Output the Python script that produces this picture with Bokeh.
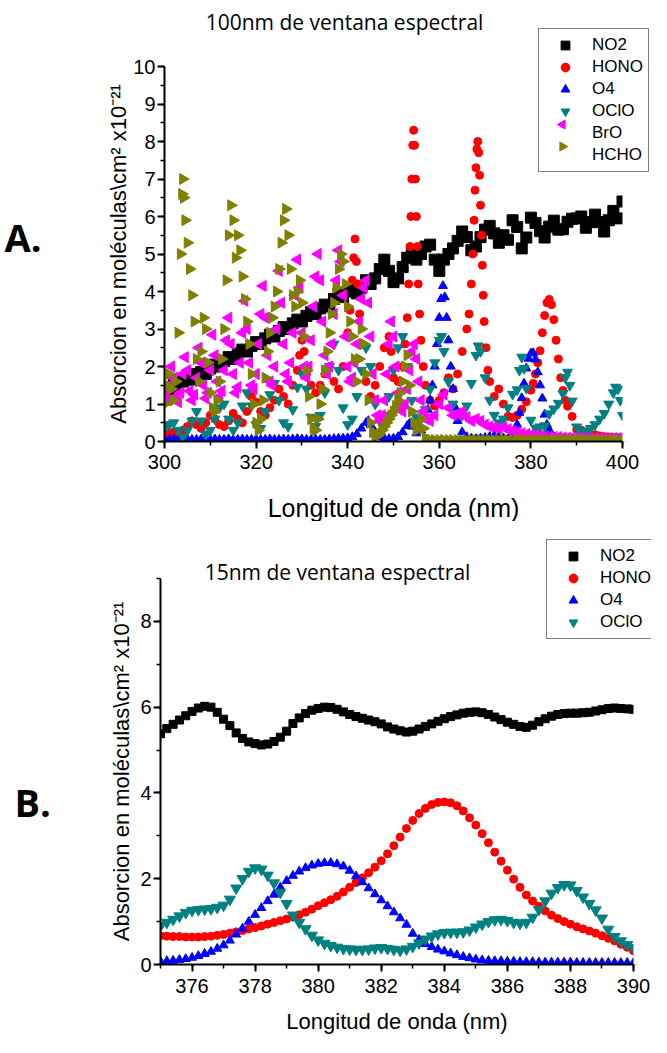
import numpy as np
from bokeh.plotting import figure
from bokeh.models import Legend, LegendItem, Label, SingleIntervalTicker
from bokeh.layouts import column
from bokeh.embed import file_html
from bokeh.resources import INLINE

# ---------------- texts ----------------
titulo_a = "100nm de ventana espectral"
titulo_b = "15nm de ventana espectral"
eje_x = "Longitud de onda (nm)"
eje_y = "Absorcion en moléculas\\cm\u00b2 x10\u207b\u00b2\u00b9"
nombres = ["NO2", "HONO", "O4", "OClO", "BrO", "HCHO"]

# ---------------- panel A data (nm, absorcion) ----------------
a_no2_x = list(range(300, 401))
a_no2_y = [1.35, 1.40, 1.50, 1.45, 1.60, 1.70, 1.65, 1.80, 1.85, 1.80,
           1.95, 2.05, 2.00, 2.15, 2.25, 2.20, 2.35, 2.45, 2.40, 2.55,
           2.65, 2.60, 2.75, 2.85, 2.80, 2.95, 3.05, 3.00, 3.15, 3.25,
           3.20, 3.35, 3.45, 3.40, 3.55, 3.65, 3.60, 3.80, 3.95, 3.85,
           4.00, 4.10, 3.95, 4.10, 4.30, 4.20, 4.35, 4.60, 4.85, 4.55,
           4.25, 4.35, 4.65, 4.90, 5.00, 4.85, 5.00, 5.20, 5.25, 4.85,
           4.55, 4.85, 5.00, 5.15, 5.35, 5.60, 5.45, 5.10, 5.20, 5.45,
           5.65, 5.75, 5.55, 5.30, 5.50, 5.38, 5.90, 5.72, 5.15, 5.44,
           5.97, 5.83, 5.61, 5.44, 5.73, 5.89, 5.65, 5.66, 5.86, 5.94,
           5.95, 6.00, 5.70, 5.85, 6.05, 5.85, 5.60, 5.90, 6.15, 5.95,
           6.40]

a_hono = [(300, 0.15), (301, 0.2), (302, 0.25), (303, 0.2), (304, 0.3), (305, 0.4), (306, 0.55), (307, 0.45),
          (308, 0.35), (309, 0.5), (310, 0.7), (311, 0.6), (312, 0.45), (313, 0.4), (314, 0.55), (315, 0.75),
          (316, 0.6), (317, 0.5), (318, 0.8), (319, 1.2), (320, 1.05), (321, 0.8), (322, 0.7), (323, 0.9),
          (324, 1.1), (325, 1.4), (326, 1.2), (327, 1.0), (328, 1.5), (329, 1.9), (329.5, 2.3), (330, 2.7),
          (330.5, 2.4), (331, 1.8), (332, 1.5), (333, 1.3), (334, 1.5), (335, 1.8), (336, 2.0), (337, 1.6),
          (338, 1.4), (339, 2.0), (340, 2.9), (340.5, 3.5), (341, 4.3), (341.3, 4.9), (341.6, 5.4), (341.9, 4.8),
          (342.2, 4.2), (342.6, 3.4), (343, 2.6), (344, 1.6), (345, 1.2), (346, 1.5), (347, 2.0), (348, 2.5),
          (349, 2.8), (349.5, 2.4), (350, 1.7), (351, 1.6), (352, 2.0), (352.5, 2.6), (353, 3.3), (353.3, 4.2),
          (353.6, 5.2), (353.8, 6.0), (354.0, 7.0), (354.2, 7.9), (354.4, 8.3), (354.6, 7.9), (354.8, 7.0),
          (355.0, 6.0), (355.2, 5.2), (355.4, 4.2), (355.7, 3.4), (356, 2.7), (356.5, 2.0), (357, 1.5),
          (358, 1.1), (359, 0.95), (360, 1.1), (361, 1.3), (362, 1.7), (363, 1.4), (364, 1.8), (365, 2.4),
          (366, 3.0), (366.5, 3.4), (367, 4.2), (367.3, 5.0), (367.6, 5.9), (367.8, 6.7), (368.0, 7.3),
          (368.2, 7.8), (368.4, 8.0), (368.6, 7.7), (368.8, 7.1), (369.0, 6.3), (369.2, 5.5), (369.4, 4.7),
          (369.6, 3.9), (369.8, 3.2), (370.2, 2.5), (370.6, 1.9), (371, 1.6), (372, 1.2), (373, 1.4),
          (374, 1.0), (375, 0.67), (376, 0.64), (377, 0.7), (378, 0.86), (379, 1.06), (380, 1.37),
          (380.5, 1.55), (381, 1.8), (381.5, 2.1), (382, 2.42), (382.5, 2.9), (383, 3.36), (383.5, 3.7),
          (384, 3.79), (384.5, 3.65), (385, 3.25), (385.5, 2.7), (386, 2.2), (386.5, 1.7), (387, 1.36),
          (387.5, 1.1), (388, 0.94), (389, 0.67), (390, 0.32), (391, 0.3), (392, 0.22), (393, 0.2),
          (394, 0.18), (395, 0.15), (396, 0.13), (397, 0.12), (398, 0.11), (399, 0.1), (400, 0.1)]

a_o4 = [(300, 0.05), (301, 0.05), (302, 0.06), (303, 0.05), (304, 0.05), (305, 0.06), (306, 0.05), (307, 0.05),
        (308, 0.06), (309, 0.05), (310, 0.05), (311, 0.06), (312, 0.05), (313, 0.05), (314, 0.06), (315, 0.05),
        (316, 0.05), (317, 0.06), (318, 0.05), (319, 0.05), (320, 0.06), (321, 0.05), (322, 0.05), (323, 0.06),
        (324, 0.05), (325, 0.05), (326, 0.06), (327, 0.05), (328, 0.06), (329, 0.07), (330, 0.06), (331, 0.05),
        (332, 0.05), (333, 0.06), (334, 0.05), (335, 0.05), (336, 0.06), (337, 0.07), (338, 0.08), (339, 0.08),
        (340, 0.09), (341, 0.12), (342, 0.2), (343, 0.35), (344, 0.5), (344.5, 0.55), (345, 0.45), (346, 0.25),
        (347, 0.12), (348, 0.08), (349, 0.07), (350, 0.08), (351, 0.12), (352, 0.25), (353, 0.42),
        (353.5, 0.48), (354, 0.4), (355, 0.22), (356, 0.3), (357, 0.6), (357.5, 0.85), (358, 1.1),
        (358.5, 1.5), (359, 2.0), (359.5, 2.6), (360, 3.3), (360.4, 3.8), (360.8, 4.15), (361.2, 3.85),
        (361.6, 3.3), (362, 2.7), (362.5, 2.0), (363, 1.4), (363.5, 0.9), (364, 0.55), (365, 0.25),
        (366, 0.12), (367, 0.08), (368, 0.07), (369, 0.08), (370, 0.1), (371, 0.13), (372, 0.15),
        (373, 0.12), (374, 0.09), (375, 0.07), (375.5, 0.1), (376, 0.16), (376.5, 0.28), (377, 0.45),
        (377.5, 0.77), (378, 1.16), (378.5, 1.55), (379, 1.95), (379.5, 2.21), (380, 2.35), (380.5, 2.36),
        (381, 2.19), (381.5, 1.85), (382, 1.5), (382.5, 1.15), (383, 0.72), (383.5, 0.45), (384, 0.31),
        (384.5, 0.2), (385, 0.12), (386, 0.07), (387, 0.06), (388, 0.06), (389, 0.05), (390, 0.04),
        (391, 0.04), (392, 0.05), (393, 0.04), (394, 0.04), (395, 0.05), (396, 0.04), (397, 0.04),
        (398, 0.05), (399, 0.04), (400, 0.04)]

a_oclo = [(300, 0.35), (301, 0.45), (302, 0.5), (303, 0.3), (304, 0.12), (305, 0.3), (306, 0.55), (307, 0.8),
          (308, 0.55), (309, 0.2), (310, 0.3), (311, 0.6), (312, 0.9), (313, 1.0), (314, 0.6), (315, 0.3),
          (316, 0.5), (317, 0.95), (318, 1.3), (319, 0.95), (320, 0.45), (321, 0.35), (322, 0.8), (323, 1.25),
          (324, 1.55), (325, 1.1), (326, 0.5), (327, 0.4), (328, 0.85), (329, 1.45), (330, 1.8), (331, 1.4),
          (332, 0.65), (333, 0.4), (334, 0.7), (335, 1.3), (336, 2.0), (337, 2.6), (338, 1.9), (339, 0.9),
          (340, 0.45), (341, 0.6), (342, 1.2), (343, 1.9), (344, 2.5), (345, 2.0), (346, 1.0), (347, 0.55),
          (348, 0.7), (349, 1.2), (350, 1.9), (351, 2.5), (352, 2.8), (353, 2.0), (354, 1.1), (355, 0.65),
          (356, 0.6), (357, 0.85), (358, 1.4), (359, 2.1), (360, 2.7), (360.5, 2.8), (361, 2.4), (362, 1.6),
          (363, 1.0), (364, 0.75), (365, 0.7), (366, 0.95), (367, 1.55), (368, 2.3), (368.5, 2.55),
          (369, 2.4), (370, 1.7), (371, 1.1), (372, 0.7), (373, 0.5), (374, 0.6), (375, 0.9), (376, 1.26),
          (377, 1.38), (377.5, 1.9), (378, 2.25), (378.5, 1.95), (379, 1.42), (380, 0.57), (381, 0.36),
          (382, 0.39), (383, 0.42), (384, 0.74), (385, 0.87), (386, 1.02), (387, 1.28), (387.5, 1.7),
          (388, 1.85), (388.5, 1.5), (389, 1.08), (390, 0.39), (391, 0.25), (392, 0.28), (393, 0.35),
          (394, 0.45), (395, 0.6), (396, 0.75), (397, 1.0), (398, 1.3), (398.5, 1.45), (399, 1.4),
          (399.5, 1.1), (400, 0.7)]

a_bro = [(300.0, 1.3), (300.5, 1.1), (301.0, 1.5), (301.5, 2.0), (302.0, 1.7), (302.5, 1.2), (303.0, 1.05),
         (303.5, 1.3), (304.0, 1.8), (304.5, 2.25), (305.0, 1.9), (305.5, 1.35), (306.0, 1.1), (306.5, 1.25),
         (307.0, 1.7), (307.5, 2.5), (308.0, 2.1), (308.5, 1.5), (309.0, 1.15), (309.5, 1.3), (310.0, 1.9),
         (310.5, 2.85), (311.0, 2.3), (311.5, 1.6), (312.0, 1.2), (312.5, 1.35), (313.0, 1.9), (313.5, 2.7),
         (314.0, 3.3), (314.5, 2.6), (315.0, 1.8), (315.5, 1.3), (316.0, 1.45), (316.5, 2.1), (317.0, 2.9),
         (317.5, 3.75), (318.0, 3.0), (318.5, 2.1), (319.0, 1.5), (319.5, 1.4), (320.0, 1.8), (320.5, 2.6),
         (321.0, 3.4), (321.5, 4.15), (322.0, 3.3), (322.5, 2.3), (323.0, 1.6), (323.5, 1.5), (324.0, 2.0),
         (324.5, 3.0), (325.0, 4.55), (325.5, 3.7), (326.0, 2.6), (326.5, 1.8), (327.0, 1.6), (327.5, 2.1),
         (328.0, 2.9), (328.5, 3.9), (329.0, 4.85), (329.5, 4.1), (330.0, 2.9), (330.5, 2.0), (331.0, 1.7),
         (331.5, 2.0), (332.0, 2.7), (332.5, 3.6), (333.0, 4.4), (333.5, 5.0), (334.0, 4.3), (334.5, 3.2),
         (335.0, 2.3), (335.5, 1.8), (336.0, 2.0), (336.5, 2.6), (337.0, 3.4), (337.5, 4.3), (338.0, 5.1),
         (338.5, 4.8), (339.0, 3.9), (339.5, 2.8), (340.0, 2.0), (340.5, 1.6), (341.0, 1.7), (341.5, 2.1),
         (342.0, 2.6), (342.5, 3.2), (343.0, 3.8), (343.5, 4.1), (344.0, 4.3), (344.5, 3.7), (345.0, 2.8),
         (345.5, 1.8), (346.0, 1.1), (346.5, 0.7), (347.0, 0.55), (347.5, 0.7), (348.0, 1.1), (348.5, 1.8),
         (349.0, 2.6), (349.5, 3.2), (350.0, 2.8), (350.5, 2.0), (351.0, 1.3), (351.5, 0.9), (352.0, 0.8),
         (352.5, 1.0), (353.0, 1.4), (353.5, 1.9), (354.0, 2.4), (354.5, 2.6), (355.0, 2.2), (355.5, 1.6),
         (356.0, 1.1), (356.5, 0.8), (357.0, 0.6), (358, 0.55), (359, 0.7), (360, 1.0), (361, 1.25),
         (362, 0.9), (363, 0.7), (364, 0.75), (365, 0.8), (366, 0.65), (367, 0.55), (368, 0.6), (369, 0.55),
         (370, 0.45), (371, 0.4), (372, 0.38), (373, 0.35), (374, 0.38), (375, 0.33), (376, 0.28),
         (377, 0.25), (378, 0.22), (379, 0.2), (380, 0.18), (381, 0.16), (382, 0.15), (383, 0.14),
         (384, 0.13), (385, 0.12), (386, 0.12), (387, 0.11), (388, 0.1), (389, 0.1), (390, 0.1),
         (391, 0.09), (392, 0.09), (393, 0.09), (394, 0.09), (395, 0.09), (396, 0.09), (397, 0.09),
         (398, 0.09), (399, 0.09), (400, 0.09)]

a_hcho = [(300.0, 1.0), (300.5, 1.5), (301.0, 1.8), (301.5, 1.4), (302.0, 1.1), (302.5, 1.6), (303.0, 2.9),
          (303.5, 5.0), (303.8, 6.6), (304.0, 7.0), (304.2, 6.5), (304.5, 5.9), (305.0, 5.3), (305.5, 4.6),
          (306.0, 3.9), (306.5, 3.2), (307.0, 2.2), (307.5, 1.6), (308.0, 2.4), (308.5, 3.3), (309.0, 3.0),
          (309.5, 2.1), (310.0, 1.3), (310.5, 0.9), (311.0, 0.8), (311.5, 1.1), (312.0, 1.6), (312.5, 2.2),
          (313.0, 3.0), (313.5, 4.3), (314.0, 5.5), (314.5, 6.3), (315.0, 5.9), (315.5, 4.9), (316.0, 5.5),
          (316.5, 5.1), (317.0, 4.4), (317.5, 3.8), (318.0, 3.2), (318.5, 2.6), (319.0, 1.8), (319.5, 1.0),
          (320.0, 0.5), (320.5, 0.3), (321.0, 0.6), (321.5, 1.1), (322.0, 1.7), (322.5, 2.4), (323.0, 2.9),
          (323.5, 3.3), (324.0, 3.6), (324.5, 4.0), (325.0, 4.6), (325.5, 5.3), (326.0, 5.9), (326.5, 6.2),
          (327.0, 5.5), (327.5, 4.6), (328.0, 3.9), (328.5, 3.6), (329.0, 4.0), (329.5, 4.3), (330.0, 3.7),
          (330.5, 2.8), (331.0, 1.9), (331.5, 1.2), (332.0, 0.6), (332.5, 0.35), (333.0, 0.3), (333.5, 0.6),
          (334.0, 1.0), (334.5, 1.4), (335.0, 1.9), (335.5, 2.4), (336.0, 2.9), (336.5, 3.4), (337.0, 3.7),
          (337.5, 4.1), (338.0, 4.6), (338.5, 5.0), (339.0, 4.8), (339.5, 4.2), (340.0, 3.6), (340.5, 3.2),
          (341.0, 2.8), (341.5, 2.2), (342.0, 1.6), (342.5, 2.2), (343.0, 3.0), (343.5, 2.6), (344.0, 1.8),
          (344.5, 1.1), (345.0, 0.5), (345.5, 0.25), (346.0, 0.15), (346.5, 0.15), (347.0, 0.2), (347.5, 0.3),
          (348.0, 0.4), (348.5, 0.5), (349.0, 0.6), (349.5, 0.7), (350.0, 0.8), (350.5, 0.95), (351.0, 1.1),
          (351.5, 1.3), (352.0, 1.6), (352.5, 2.0), (353.0, 2.3), (353.5, 1.5), (354.0, 0.8), (354.5, 0.5),
          (355.0, 0.3), (355.5, 0.4), (356.0, 0.6), (356.5, 0.35), (357.0, 0.1), (358, 0.05), (359, 0.04),
          (360, 0.04), (361, 0.04), (362, 0.04), (363, 0.04), (364, 0.04), (365, 0.04), (366, 0.04),
          (367, 0.04), (368, 0.04), (369, 0.04), (370, 0.04), (371, 0.04), (372, 0.04), (373, 0.04),
          (374, 0.04), (375, 0.04), (376, 0.04), (377, 0.04), (378, 0.04), (379, 0.04), (380, 0.04),
          (381, 0.04), (382, 0.04), (383, 0.04), (384, 0.04), (385, 0.04), (386, 0.04), (387, 0.04),
          (388, 0.04), (389, 0.04), (390, 0.04), (391, 0.04), (392, 0.04), (393, 0.04), (394, 0.04),
          (395, 0.04), (396, 0.04), (397, 0.04), (398, 0.04), (399, 0.04), (400, 0.04)]

# ---------------- panel B data (375-390 nm, 0.2 nm step) ----------------
b_x = np.round(np.linspace(375.0, 390.0, 76), 1)
b_no2 = [5.38, 5.50, 5.60, 5.70, 5.80, 5.90, 5.98, 6.02, 6.00, 5.88,
         5.72, 5.57, 5.40, 5.27, 5.19, 5.15, 5.12, 5.14, 5.20, 5.30,
         5.44, 5.62, 5.75, 5.85, 5.93, 5.97, 6.00, 5.99, 5.95, 5.89,
         5.83, 5.78, 5.74, 5.70, 5.66, 5.61, 5.54, 5.49, 5.45, 5.42,
         5.44, 5.49, 5.55, 5.61, 5.67, 5.73, 5.78, 5.82, 5.86, 5.88,
         5.89, 5.87, 5.83, 5.77, 5.71, 5.65, 5.60, 5.55, 5.53, 5.58,
         5.66, 5.73, 5.79, 5.83, 5.85, 5.86, 5.86, 5.87, 5.88, 5.91,
         5.94, 5.97, 5.98, 5.97, 5.96, 5.95]
b_hono = [0.67, 0.66, 0.65, 0.65, 0.64, 0.64, 0.64, 0.65, 0.66, 0.68,
          0.70, 0.73, 0.76, 0.79, 0.83, 0.86, 0.90, 0.94, 0.98, 1.02,
          1.06, 1.11, 1.16, 1.22, 1.29, 1.37, 1.44, 1.51, 1.59, 1.69,
          1.80, 1.91, 2.02, 2.14, 2.27, 2.42, 2.58, 2.77, 2.97, 3.17,
          3.36, 3.52, 3.64, 3.73, 3.78, 3.79, 3.77, 3.70, 3.58, 3.42,
          3.25, 3.05, 2.84, 2.62, 2.41, 2.20, 1.99, 1.80, 1.62, 1.48,
          1.36, 1.25, 1.15, 1.07, 1.00, 0.94, 0.88, 0.83, 0.78, 0.73,
          0.67, 0.61, 0.55, 0.47, 0.40, 0.32]
b_o4 = [0.07, 0.08, 0.09, 0.11, 0.13, 0.16, 0.20, 0.25, 0.30, 0.37,
        0.45, 0.56, 0.70, 0.84, 1.00, 1.16, 1.32, 1.48, 1.63, 1.80,
        1.95, 2.07, 2.17, 2.25, 2.31, 2.35, 2.37, 2.37, 2.34, 2.29,
        2.19, 2.06, 1.92, 1.78, 1.64, 1.50, 1.36, 1.22, 1.08, 0.93,
        0.72, 0.58, 0.48, 0.41, 0.35, 0.31, 0.26, 0.22, 0.18, 0.15,
        0.12, 0.10, 0.09, 0.08, 0.08, 0.07, 0.07, 0.06, 0.06, 0.06,
        0.05, 0.05, 0.05, 0.05, 0.05, 0.05, 0.04, 0.04, 0.04, 0.04,
        0.04, 0.04, 0.04, 0.04, 0.04, 0.04]
b_oclo = [0.90, 0.98, 1.05, 1.13, 1.21, 1.26, 1.28, 1.29, 1.30, 1.33,
          1.38, 1.52, 1.78, 2.00, 2.17, 2.25, 2.22, 2.08, 1.90, 1.68,
          1.42, 1.15, 0.98, 0.83, 0.68, 0.57, 0.49, 0.44, 0.40, 0.37,
          0.36, 0.35, 0.35, 0.36, 0.38, 0.39, 0.37, 0.35, 0.33, 0.36,
          0.42, 0.50, 0.59, 0.66, 0.71, 0.74, 0.75, 0.75, 0.76, 0.80,
          0.87, 0.94, 1.00, 1.04, 1.05, 1.02, 0.98, 0.96, 0.98, 1.10,
          1.28, 1.48, 1.66, 1.79, 1.86, 1.85, 1.72, 1.57, 1.42, 1.27,
          1.08, 0.82, 0.65, 0.55, 0.46, 0.39]

# ---------------- styles / layout (pixels) ----------------
COL = {"NO2": "#000000", "HONO": "#ff0000", "O4": "#0000ff",
       "OClO": "#008080", "BrO": "#ff00ff", "HCHO": "#808000"}
FONT = "Liberation Sans"
W = 651
LG_PAD, LG_GW, LG_ROW = 5, 42, 22


def ranges(d0, d1, p0, p1, total, flip=False):
    """data range spanning the whole canvas so that d0->p0 and d1->p1 (pixels)."""
    if not flip:
        k = (d1 - d0) / (p1 - p0)
        return d0 - p0 * k, d1 + (total - p1) * k
    k = (d1 - d0) / (p0 - p1)
    return d0 - (total - p0) * k, d1 + p1 * k


def to_data(xr, yr, h, cx, cy):
    """canvas pixel (from top-left) -> data coordinates"""
    return (xr[0] + cx * (xr[1] - xr[0]) / W, yr[1] - cy * (yr[1] - yr[0]) / h)


def style_axes(p, xfix, yfix, xb, yb, xlab_size, ylab_size, x_lab_standoff, y_lab_standoff, x_tick_standoff):
    p.outline_line_color = None
    p.xgrid.visible = False
    p.ygrid.visible = False
    p.background_fill_color = "white"
    p.border_fill_color = "white"
    p.xaxis.fixed_location = xfix
    p.yaxis.fixed_location = yfix
    p.xaxis.bounds = xb
    p.yaxis.bounds = yb
    for ax in (p.xaxis[0], p.yaxis[0]):
        ax.axis_line_width = 2
        ax.axis_line_color = "black"
        ax.major_tick_line_width = 2
        ax.minor_tick_line_width = 1.5
        ax.major_tick_in = 0
        ax.major_tick_out = 7
        ax.minor_tick_in = 0
        ax.minor_tick_out = 4
        ax.major_label_text_font = FONT
        ax.major_label_text_font_size = "20px"
        ax.major_label_text_color = "black"
        ax.axis_label_text_font = FONT
        ax.axis_label_text_font_style = "normal"
        ax.axis_label_text_color = "black"
    p.xaxis[0].axis_label = eje_x
    p.yaxis[0].axis_label = eje_y
    p.xaxis[0].axis_label_text_font_size = xlab_size
    p.yaxis[0].axis_label_text_font_size = ylab_size
    p.xaxis[0].axis_label_standoff = x_lab_standoff
    p.yaxis[0].axis_label_standoff = y_lab_standoff
    p.xaxis[0].major_label_standoff = x_tick_standoff
    p.yaxis[0].major_label_standoff = 2


def mask(p, x0, x1, y0, y1):
    """white bands outside the axes so markers look clipped at the axes"""
    xs, xe = p.x_range.start, p.x_range.end
    ys, ye = p.y_range.start, p.y_range.end
    p.quad(left=[xs, xs, x1], right=[xe, x0, xe], bottom=[ys, y0, y0], top=[y0, y1, y1],
           fill_color="white", line_color=None)


def make_legend(items, loc, bg_alpha=1.0):
    return Legend(items=items, location=loc, orientation="vertical",
                  border_line_color="black", border_line_width=1,
                  background_fill_color="white", background_fill_alpha=bg_alpha,
                  label_text_font=FONT, label_text_font_size="17px",
                  label_text_color="black",
                  glyph_width=LG_GW, glyph_height=LG_ROW, label_height=LG_ROW,
                  label_standoff=6, spacing=0, padding=LG_PAD, margin=0)


def xy(pairs):
    return [a for a, b in pairs], [b for a, b in pairs]


# ---------------- panel A ----------------
H1 = 521
xr1 = ranges(300, 400, 164, 622, W)
yr1 = ranges(0, 10, 441, 66, H1, flip=True)
p1 = figure(width=W, height=H1, x_range=xr1, y_range=yr1,
            toolbar_location=None, output_backend="svg", min_border=0)
style_axes(p1, 0, 300, (300, 400), (0, 10), "25px", "22px", 22, -1, 6)
p1.xaxis[0].ticker = SingleIntervalTicker(interval=20, num_minor_ticks=2)
p1.yaxis[0].ticker = SingleIntervalTicker(interval=1, num_minor_ticks=2)

r = {}
r["NO2"] = p1.scatter(a_no2_x, a_no2_y, marker="square", size=11,
                      fill_color=COL["NO2"], line_color=COL["NO2"])
hx, hy = xy(a_hono)
r["HONO"] = p1.scatter(hx, hy, marker="circle", size=8,
                       fill_color=COL["HONO"], line_color=COL["HONO"])
ox, oy = xy(a_o4)
r["O4"] = p1.scatter(ox, oy, marker="triangle", size=9,
                     fill_color=COL["O4"], line_color=COL["O4"])
cx, cy = xy(a_oclo)
r["OClO"] = p1.scatter(cx, cy, marker="inverted_triangle", size=10,
                       fill_color=COL["OClO"], line_color=COL["OClO"])
bx, by = xy(a_bro)
p1.scatter(bx, by, marker="triangle", angle=np.pi / 2, size=11,
           fill_color=COL["BrO"], line_color=COL["BrO"])
fx, fy = xy(a_hcho)
p1.scatter(fx, fy, marker="triangle", angle=-np.pi / 2, size=11,
           fill_color=COL["HCHO"], line_color=COL["HCHO"])
mask(p1, 300, 400, 0, 10.6)

# legend: Bokeh draws legend glyphs without rotation, so the BrO / HCHO rows get a
# hidden glyph and the rotated marker is drawn beneath the (transparent) legend box
r["BrO"] = p1.scatter([], [], marker="triangle", fill_alpha=0, line_alpha=0)
r["HCHO"] = p1.scatter([], [], marker="triangle", fill_alpha=0, line_alpha=0)
lg1_loc = (538, 349)
p1.add_layout(make_legend([LegendItem(label=n, renderers=[r[n]]) for n in nombres], lg1_loc, 0.0))
row0 = H1 - lg1_loc[1] - (LG_ROW * 6 + 2 * LG_PAD) - 10 + LG_PAD + LG_ROW / 2
gcx = lg1_loc[0] + LG_PAD + LG_GW / 2 - 2
g_bro = to_data(xr1, yr1, H1, gcx, row0 + LG_ROW * 4)
g_hcho = to_data(xr1, yr1, H1, gcx, row0 + LG_ROW * 5)
p1.scatter([g_bro[0], g_hcho[0]], [g_bro[1], g_hcho[1]], marker="triangle",
           angle=[np.pi / 2, -np.pi / 2], size=9,
           fill_color=[COL["BrO"], COL["HCHO"]], line_color=[COL["BrO"], COL["HCHO"]])

p1.add_layout(Label(x=344, y=500, x_units="screen", y_units="screen", text=titulo_a,
                    text_font="Open Sans", text_font_size="21px", text_align="center",
                    text_baseline="alphabetic", text_color="black"))
p1.add_layout(Label(x=4, y=285, x_units="screen", y_units="screen", text="A.",
                    text_font="Open Sans", text_font_size="38px", text_font_style="bold",
                    text_align="left", text_baseline="alphabetic", text_color="black"))

# ---------------- panel B ----------------
H2 = 516
xr2 = ranges(375, 390, 160, 633, W)
yr2 = ranges(0, 9, 443, 57, H2, flip=True)
p2 = figure(width=W, height=H2, x_range=xr2, y_range=yr2,
            toolbar_location=None, output_backend="svg", min_border=0)
style_axes(p2, 0, 375, (375, 390), (0, 9), "22px", "22px", 13, 3, 7)
p2.xaxis[0].ticker = SingleIntervalTicker(interval=2, num_minor_ticks=2)
p2.yaxis[0].ticker = SingleIntervalTicker(interval=2, num_minor_ticks=2)

s = {}
s["NO2"] = p2.scatter(b_x, b_no2, marker="square", size=8,
                      fill_color=COL["NO2"], line_color=COL["NO2"])
s["HONO"] = p2.scatter(b_x, b_hono, marker="circle", size=8,
                       fill_color=COL["HONO"], line_color=COL["HONO"])
s["O4"] = p2.scatter(b_x, b_o4, marker="triangle", size=9,
                     fill_color=COL["O4"], line_color=COL["O4"])
s["OClO"] = p2.scatter(b_x, b_oclo, marker="inverted_triangle", size=11,
                       fill_color=COL["OClO"], line_color=COL["OClO"])
mask(p2, 375, 390, 0, 9.5)

p2.add_layout(make_legend([LegendItem(label=n, renderers=[s[n]]) for n in nombres[:4]], (546, 398)))
p2.add_layout(Label(x=337, y=466, x_units="screen", y_units="screen", text=titulo_b,
                    text_font="Open Sans", text_font_size="21px", text_align="center",
                    text_baseline="alphabetic", text_color="black"))
p2.add_layout(Label(x=14, y=236, x_units="screen", y_units="screen", text="B.",
                    text_font="Open Sans", text_font_size="38px", text_font_style="bold",
                    text_align="left", text_baseline="alphabetic", text_color="black"))

layout = column(p1, p2, spacing=0)
open("out.html", "w").write(file_html(layout, INLINE))
